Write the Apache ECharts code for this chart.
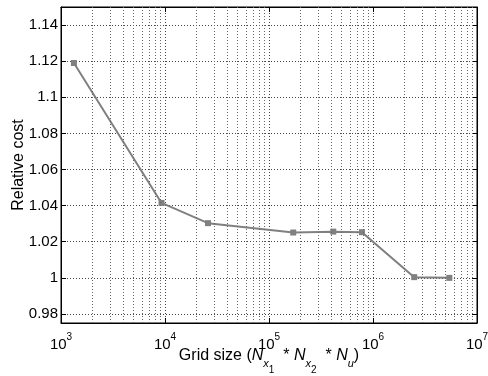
<!DOCTYPE html>
<html>
<head>
<meta charset="utf-8">
<script src="https://cdn.jsdelivr.net/npm/echarts@6/dist/echarts.min.js"></script>
<style>
  html, body { margin: 0; padding: 0; background: #fff; }
  #chart { width: 488px; height: 376px; }
</style>
</head>
<body>
<div id="chart"></div>
<script>
// grid size (Nx1 * Nx2 * Nu) and relative cost
const gridSizes = [1331, 9261, 25900, 171000, 415000, 783000, 2490000, 5420000]
const relCost = [1.119, 1.0415, 1.0303, 1.0251, 1.0256, 1.0253, 1.0004, 1.0000]
const yTicks = [0.98, 1, 1.02, 1.04, 1.06, 1.08, 1.1, 1.12, 1.14]
const xDecades = [3, 4, 5, 6, 7]

const font = 'Liberation Sans, Arial, Helvetica, sans-serif'
const lineColor = '#808080'
const dotted = { color: '#444', width: 1, type: [1, 2] }

// minor log grid lines 2..9 x 10^k
const minorLines = []
xDecades.slice(0, -1).forEach(k => {
  for (let m = 2; m <= 9; m++) minorLines.push({ xAxis: m * Math.pow(10, k) })
})

const chart = echarts.init(document.getElementById('chart'))

const xLabel = {
  fontFamily: font,
  color: '#000',
  margin: 9,
  formatter: v => '{b|10}{e|' + Math.round(Math.log10(v)) + '}',
  rich: {
    b: { fontSize: 15, fontFamily: font, color: '#000', verticalAlign: 'bottom', padding: [5, 0, 0, 0] },
    e: { fontSize: 10, fontFamily: font, color: '#000', verticalAlign: 'top' }
  }
}

const nameRich = {
  t: { fontSize: 16, fontFamily: font, color: '#000', verticalAlign: 'top', lineHeight: 30 },
  i: { fontSize: 16, fontFamily: font, fontStyle: 'italic', color: '#000', verticalAlign: 'top', lineHeight: 30 },
  s: { fontSize: 11, fontFamily: font, fontStyle: 'italic', color: '#000', verticalAlign: 'top', padding: [10, 0, 0, 0], lineHeight: 30 },
  ss: { fontSize: 10, fontFamily: font, color: '#000', verticalAlign: 'top', padding: [17, 0, 0, 0], lineHeight: 30 }
}

chart.setOption({
  animation: false,
  backgroundColor: '#fff',
  grid: {
    left: 61, right: 11, top: 7, bottom: 53,
    outerBoundsMode: 'none', containLabel: false,
    show: true, borderColor: '#000', borderWidth: 1
  },
  xAxis: [
    {
      type: 'log',
      logBase: 10,
      min: 1000,
      max: 1e7,
      name: '{t|Grid size (}{i|N}{s|x}{ss|1}{t|  * }{i|N}{s|x}{ss|2}{t|  * }{i|N}{s|u}{t|)}',
      nameLocation: 'middle',
      nameGap: 25,
      nameMoveOverlap: false,
      nameTextStyle: { rich: nameRich },
      axisLine: { show: true, lineStyle: { color: '#000', width: 1 } },
      axisTick: { show: true, inside: true, length: 5, lineStyle: { color: '#000' } },
      axisLabel: xLabel,
      splitLine: { show: true, lineStyle: dotted }
    },
    {
      type: 'log',
      logBase: 10,
      min: 1000,
      max: 1e7,
      position: 'top',
      axisLine: { show: true, lineStyle: { color: '#000', width: 1 } },
      axisTick: { show: true, inside: true, length: 5, lineStyle: { color: '#000' } },
      axisLabel: { show: false },
      splitLine: { show: false }
    }
  ],
  yAxis: [
    {
      type: 'value',
      min: 0.975,
      max: 1.15,
      name: 'Relative cost',
      nameLocation: 'middle',
      nameGap: 34,
      nameMoveOverlap: false,
      nameTextStyle: { fontSize: 16, fontFamily: font, color: '#000' },
      axisLine: { show: true, lineStyle: { color: '#000', width: 1 } },
      axisTick: { show: true, inside: true, length: 5, lineStyle: { color: '#000' }, customValues: yTicks },
      axisLabel: { fontSize: 15, fontFamily: font, color: '#000', margin: 3, customValues: yTicks, formatter: v => String(+v.toFixed(2)) },
      splitLine: { show: true, lineStyle: dotted }
    },
    {
      type: 'value',
      min: 0.975,
      max: 1.15,
      position: 'right',
      axisLine: { show: true, lineStyle: { color: '#000', width: 1 } },
      axisTick: { show: true, inside: true, length: 5, lineStyle: { color: '#000' }, customValues: yTicks },
      axisLabel: { show: false, customValues: yTicks },
      splitLine: { show: false }
    }
  ],
  series: [
    {
      type: 'line',
      data: [],
      silent: true,
      z: 1,
      markLine: {
        silent: true,
        symbol: 'none',
        label: { show: false },
        lineStyle: { color: '#666', width: 1, type: [1, 2] },
        data: minorLines
      }
    },
    {
      type: 'line',
      data: gridSizes.map((x, i) => [x, relCost[i]]),
      z: 3,
      symbol: 'rect',
      symbolSize: 6,
      showAllSymbol: true,
      lineStyle: { color: lineColor, width: 2 },
      itemStyle: { color: lineColor, borderWidth: 0 }
    }
  ]
})
</script>
</body>
</html>
